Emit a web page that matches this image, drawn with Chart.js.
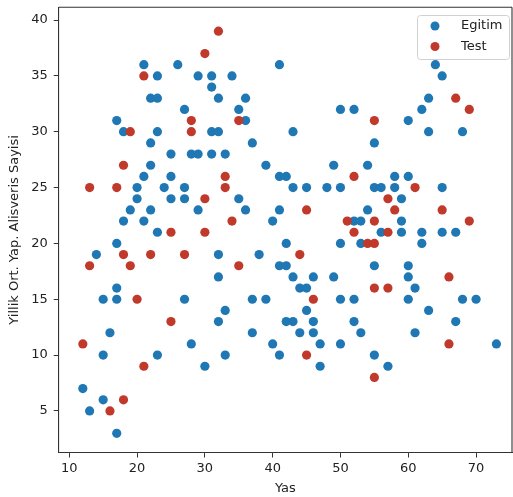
<!DOCTYPE html>
<html>
<head>
<meta charset="utf-8">
<script src="https://cdn.jsdelivr.net/npm/chart.js@4.4.1/dist/chart.umd.min.js"></script>
<style>
  html, body { margin: 0; padding: 0; background: #fff; }
  #wrap { width: 513px; height: 497px; }
</style>
</head>
<body>
<div id="wrap"><canvas id="c" width="513" height="497"></canvas></div>
<script>
// ---- data ----
const seriesNames = ['Egitim', 'Test'];
const egitimAge = [21,26,23,29,31,31,22,23,27,17,18,23,31,22,25,28,29,31,22,21,25,20,24,27,20,25,27,19,22,29,18,21,23,17,
  41,34,32,36,35,50,52,36,32,43,37,33,39,49,41,42,43,45,48,50,35,36,41,40,52,
  64,65,63,62,60,63,68,55,54,58,60,55,56,58,65,59,54,53,59,56,59,62,65,67,
  14,32,17,15,17,27,16,28,15,23,30,12,15,13,17,
  42,50,38,41,42,32,43,46,49,44,45,37,39,50,52,33,45,32,42,43,46,52,37,44,46,53,40,47,50,33,41,47,
  53,62,55,60,60,61,60,68,70,63,67,61,73,55,57];
const egitimVal = [36,36,35,35,35,34,33,33,32,31,30,30,30,29,28,28,28,28,27,26,26,25,25,25,24,24,24,23,23,23,22,22,21,20,
  36,35,33,33,32,32,32,31,30,30,29,28,27,27,26,26,25,25,25,25,24,23,23,22,22,
  36,35,33,32,31,30,30,29,27,26,26,25,25,25,25,24,23,22,22,21,21,21,21,21,
  19,19,16,15,15,15,12,11,10,10,9,7,6,5,3,
  20,20,19,18,18,17,17,17,17,16,16,15,15,15,15,14,14,13,13,13,13,13,12,12,12,12,11,11,11,10,10,9,
  20,20,18,18,17,16,15,15,15,14,13,12,11,10,9];
const testAge = [32,30,21,28,19,28,18,13,17,30,25,30,35,33,52,33,34,51,52,45,67,69,55,61,57,58,65,55,69,57,
  18,22,27,13,19,20,25,12,21,18,16,44,35,46,45,54,55,66,55,57,66,55];
const testVal = [39,37,35,31,30,30,27,25,25,24,21,21,31,26,26,25,22,22,21,23,33,32,31,25,24,23,23,22,22,21,
  19,19,19,18,18,15,13,11,9,6,5,19,18,15,10,20,20,17,16,16,11,8];
const xTickValues = [10,20,30,40,50,60,70];
const yTickValues = [5,10,15,20,25,30,35,40];
const xTitle = 'Yas';
const yTitle = 'Yillik Ort. Yap. Alisveris Sayisi';

const BLUE = '#1f77b4';
const RED = '#c0392b';
const FONT = '"DejaVu Sans", sans-serif';

function pts(xs, ys) { return xs.map((x, i) => ({ x: x, y: ys[i] })); }

const framePlugin = {
  id: 'frameAndLegend',
  afterDraw(chart) {
    const ctx = chart.ctx;
    const a = chart.chartArea;
    ctx.save();
    ctx.strokeStyle = '#333';
    ctx.lineWidth = 1.1;
    ctx.beginPath();
    ctx.moveTo(a.left, a.top); ctx.lineTo(a.right, a.top);
    ctx.moveTo(a.right, a.top); ctx.lineTo(a.right, a.bottom);
    ctx.stroke();
    // legend box (upper right, inside axes)
    const bx = 417.5, by = 15.5, bw = 92, bh = 44;
    const r = 3;
    ctx.fillStyle = 'rgba(255,255,255,0.8)';
    ctx.strokeStyle = '#d0d0d0';
    ctx.lineWidth = 1;
    ctx.beginPath();
    ctx.moveTo(bx + r, by);
    ctx.lineTo(bx + bw - r, by); ctx.arcTo(bx + bw, by, bx + bw, by + r, r);
    ctx.lineTo(bx + bw, by + bh - r); ctx.arcTo(bx + bw, by + bh, bx + bw - r, by + bh, r);
    ctx.lineTo(bx + r, by + bh); ctx.arcTo(bx, by + bh, bx, by + bh - r, r);
    ctx.lineTo(bx, by + r); ctx.arcTo(bx, by, bx + r, by, r);
    ctx.closePath();
    ctx.fill(); ctx.stroke();
    const ds = chart.data.datasets;
    const rows = [26, 46.5];
    ds.forEach((d, i) => {
      ctx.fillStyle = d.backgroundColor;
      ctx.beginPath();
      ctx.arc(435, rows[i], 4.5, 0, Math.PI * 2);
      ctx.fill();
      ctx.fillStyle = '#222';
      ctx.font = '13px ' + FONT;
      ctx.textBaseline = 'middle';
      ctx.textAlign = 'left';
      ctx.fillText(d.label, 461, rows[i]);
    });
    ctx.restore();
  }
};

new Chart(document.getElementById('c'), {
  type: 'scatter',
  data: {
    datasets: [
      { label: seriesNames[0], data: pts(egitimAge, egitimVal), backgroundColor: BLUE, borderWidth: 0, pointRadius: 4.6, pointHoverRadius: 4.6, order: 1 },
      { label: seriesNames[1], data: pts(testAge, testVal), backgroundColor: RED, borderWidth: 0, pointRadius: 4.6, pointHoverRadius: 4.6, order: 0 }
    ]
  },
  options: {
    responsive: false,
    animation: false,
    events: [],
    layout: { autoPadding: false, padding: { left: 0, top: 7.3, right: 1, bottom: 0 } },
    plugins: { legend: { display: false }, tooltip: { enabled: false } },
    scales: {
      x: {
        type: 'linear',
        min: 8.44, max: 75.3,
        afterBuildTicks: s => { s.ticks = xTickValues.map(v => ({ value: v })); },
        afterFit: s => { s.height = 44.5; s.paddingLeft = 0; s.paddingRight = 0; },
        grid: { drawOnChartArea: false, drawTicks: true, tickLength: 5, tickColor: '#333', tickWidth: 1 },
        border: { display: true, color: '#333', width: 1.1 },
        ticks: { color: '#222', font: { family: FONT, size: 13 }, padding: 3, maxRotation: 0 },
        title: { display: true, text: xTitle, color: '#222', font: { family: FONT, size: 13 }, padding: { top: 0, bottom: 1 } }
      },
      y: {
        type: 'linear',
        min: 1.28, max: 41.14,
        afterBuildTicks: s => { s.ticks = yTickValues.map(v => ({ value: v })); },
        afterFit: s => { s.width = 58.7; s.paddingTop = 0; s.paddingBottom = 0; },
        grid: { drawOnChartArea: false, drawTicks: true, tickLength: 5, tickColor: '#333', tickWidth: 1 },
        border: { display: true, color: '#333', width: 1.1 },
        ticks: { color: '#222', font: { family: FONT, size: 13 }, padding: 6 },
        title: { display: true, text: yTitle, color: '#222', font: { family: FONT, size: 13 }, padding: { top: 7, bottom: 0 } }
      }
    }
  },
  plugins: [framePlugin]
});
</script>
</body>
</html>
